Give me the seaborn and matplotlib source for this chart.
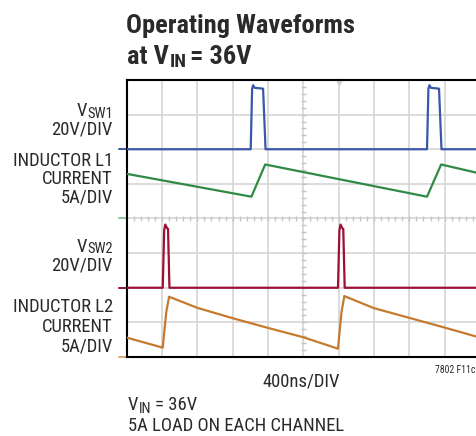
import matplotlib
matplotlib.use("Agg")
import numpy as np
import pandas as pd
import seaborn as sns
import matplotlib.pyplot as plt
from matplotlib import font_manager
from matplotlib.transforms import blended_transform_factory

# ---- scope traces (time in ns, 400 ns/div) ----
vsw1_ns = [0, 1404, 1420, 1432, 1448, 1544, 1572, 3400, 3416, 3428, 3444, 3536, 3564, 4000]
vsw1_v = [0, 0, 35, 37, 35.5, 35, 0, 0, 35, 37, 35.5, 35, 0, 0]

il1_ns = [0, 1412, 1568, 3400, 3560, 4000]
il1_a = [6.45, 3.15, 7.8, 3.15, 7.8, 6.5]

vsw2_ns = [0, 408, 424, 436, 456, 468, 484, 2392, 2408, 2420, 2440, 2452, 2468, 4000]
vsw2_v = [0, 0, 33, 36.5, 34.5, 34, 0, 0, 33, 36.5, 34.5, 34, 0, 0]

il2_ns = [0, 408, 448, 480, 540, 800, 1200, 1600, 2000, 2392, 2432, 2464, 2520, 2800, 3200, 3600, 4000]
il2_a = [2.8, 1.35, 6.5, 8.7, 8.4, 7.1, 5.6, 4.2, 2.85, 1.2, 6.5, 8.8, 8.5, 7.05, 5.65, 4.25, 2.8]

# channel settings: (ground level in divisions, units per division)
ch_vsw1 = (6.0, 20.0)
ch_il1 = (4.0, 5.0)
ch_vsw2 = (2.0, 20.0)
ch_il2 = (0.0, 5.0)

BLUE = "#3b57a8"
GREEN = "#2f8a45"
RED = "#9c0f37"
ORANGE = "#c57a2e"
GRID = "#d6d6d6"
INK = "#2a2a2a"

sns.set_style("white")

# pick the narrowest sans face that is installed
entries = font_manager.fontManager.ttflist
FONT, STRETCH = "Liberation Sans", "normal"
best = None
fam_rank = {"Liberation Sans Narrow": 0, "Noto Sans": 1, "Roboto": 2, "Open Sans": 3,
            "DejaVu Sans": 4, "Liberation Sans": 5}
for f in entries:
    narrow = ("Narrow" in f.name) or ("Condensed" in f.name) or \
        (f.stretch in ("condensed", "semi-condensed", "extra-condensed"))
    if not narrow:
        continue
    base = f.name
    for k in fam_rank:
        if f.name.startswith(k):
            base = k
    rank = fam_rank.get(base, 9)
    if best is None or rank < best[0]:
        best = (rank, f.name, f.stretch if isinstance(f.stretch, str) else "normal")
if best is not None:
    FONT, STRETCH = best[1], best[2]
plt.rcParams["font.family"] = [FONT, "DejaVu Sans"]

W, H = 477, 436
fig = plt.figure(figsize=(W / 100, H / 100), dpi=100)
L, R, T, B = 126.7, 480.0, 80.0, 357.0
ax = fig.add_axes([L / W, 1 - B / H, (R - L) / W, (B - T) / H])
ax.set_xlim(0, 4000)
ax.set_ylim(0, 8)

# graticule
for i in range(1, 10):
    ax.axvline(i * 400, color=GRID, lw=1.2, zorder=0)
for j in range(1, 8):
    ax.axhline(j, color=GRID, lw=1.2, zorder=0)
xt = np.arange(80, 4000, 80)
ax.vlines(xt, 4 - 0.07, 4 + 0.07, color="#c4c4c4", lw=1.0, zorder=0)
yt = np.arange(0.2, 8, 0.2)
ax.hlines(yt, 2000 - 28, 2000 + 28, color="#c4c4c4", lw=1.0, zorder=0)
ax.plot([2400], [7.93], marker="v", ms=5, color="#cfcfcf", clip_on=False, zorder=1)


def trace(ts, vals, ch, color):
    g, per = ch
    df = pd.DataFrame({"t": ts, "y": g + np.asarray(vals, float) / per})
    sns.lineplot(data=df, x="t", y="y", ax=ax, color=color, lw=1.6,
                 estimator=None, sort=False, zorder=3)


trace(vsw1_ns, vsw1_v, ch_vsw1, BLUE)
trace(il1_ns, il1_a, ch_il1, GREEN)
trace(vsw2_ns, vsw2_v, ch_vsw2, RED)
trace(il2_ns, il2_a, ch_il2, ORANGE)

# ground reference markers on the left edge
bt = blended_transform_factory(ax.transAxes, ax.transData)
for (g, _), c in [(ch_vsw1, BLUE), (ch_il1, "#8cc59a"), (ch_vsw2, RED), (ch_il2, "#e0a870")]:
    ax.plot([-0.022, 0.0], [g, g], transform=bt, color=c, lw=1.4, clip_on=False)

ax.set_xticks([])
ax.set_yticks([])
ax.set_xlabel("")
ax.set_ylabel("")
for s in ["left", "top", "bottom"]:
    ax.spines[s].set_visible(True)
    ax.spines[s].set_color("black")
    ax.spines[s].set_linewidth(1.5)
ax.spines["right"].set_visible(False)

renderer = fig.canvas.get_renderer()


def width_at(s, size, weight="normal"):
    t = fig.text(0, 0, s, fontsize=size, fontweight=weight, fontstretch=STRETCH)
    w = t.get_window_extent(renderer).width
    t.remove()
    return w


def fit(s, target_px, weight="normal", cap=None):
    size = 10.0 * target_px / width_at(s, 10.0, weight)
    return min(size, cap) if cap else size


def runs(x_px, y_px, parts, ha="left"):
    """parts: list of (text, fontsize, baseline shift px, weight, gap px before)."""
    objs = []
    total = 0.0
    for s, size, dy, weight, gap in parts:
        t = fig.text(0, 0, s, fontsize=size, fontweight=weight, color=INK,
                     va="baseline", ha="left", fontstretch=STRETCH)
        w = t.get_window_extent(renderer).width
        objs.append((t, dy, gap, w))
        total += gap + w
    x = x_px - total if ha == "right" else x_px
    for t, dy, gap, w in objs:
        x += gap
        t.set_position((x / W, 1 - (y_px + dy) / H))
        x += w


def line(x_px, y_px, s, size, ha="left", weight="normal"):
    fig.text(x_px / W, 1 - y_px / H, s, fontsize=size, fontweight=weight,
             color=INK, va="baseline", ha=ha, fontstretch=STRETCH)


# title
TS = fit("Operating Waveforms", 228, "bold", cap=24)
line(126, 32.5, "Operating Waveforms", TS, weight="bold")
runs(127, 63.5, [("at V", TS, 0, "bold", 0), ("IN", TS * 0.72, 3.5, "bold", 0.5),
                 ("= 36V", TS, 0, "bold", 4)])

LBL = fit("INDUCTOR L1", 104, cap=13.4)
SUB = LBL * 0.78
XR = 113
runs(XR, 116.5, [("V", LBL, 0, "normal", 0), ("SW1", SUB, 1.5, "normal", 0.3)], ha="right")
line(XR, 135, "20V/DIV", LBL, ha="right")
line(XR, 166, "INDUCTOR L1", LBL, ha="right")
line(XR, 184.3, "CURRENT", LBL, ha="right")
line(XR, 202.7, "5A/DIV", LBL, ha="right")

runs(XR, 251.7, [("V", LBL, 0, "normal", 0), ("SW2", SUB, 1.5, "normal", 0.3)], ha="right")
line(XR, 271, "20V/DIV", LBL, ha="right")
line(XR, 311.7, "INDUCTOR L2", LBL, ha="right")
line(XR, 331.7, "CURRENT", LBL, ha="right")
line(XR, 351.7, "5A/DIV", LBL, ha="right")

line(301.5, 386, "400ns/DIV", LBL, ha="center")
line(475, 373.3, "7802 F11c", 7.0, ha="right")
runs(128, 410, [("V", LBL, 0, "normal", 0), ("IN", SUB, 3, "normal", 0.3),
                ("= 36V", LBL, 0, "normal", 3.5)])
line(128, 431, "5A LOAD ON EACH CHANNEL", LBL)

fig.savefig("out.png", dpi=100)
